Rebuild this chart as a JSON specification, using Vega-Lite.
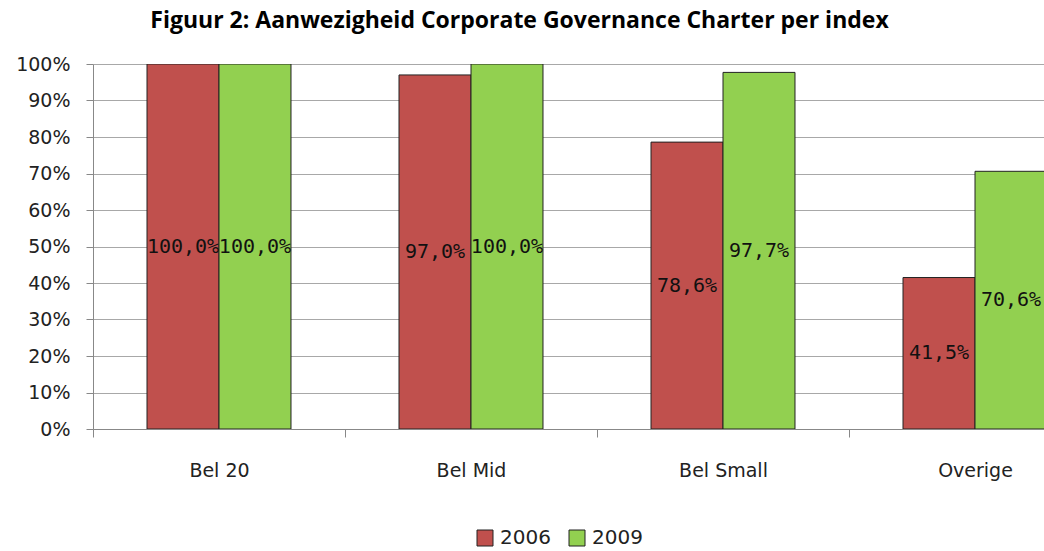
{
  "$schema": "https://vega.github.io/schema/vega-lite/v6.json",
  "width": 951,
  "height": 365,
  "autosize": {"type": "none"},
  "padding": {"left": 93, "top": 64, "right": 0, "bottom": 122},
  "background": "white",
  "config": {
    "view": {"stroke": null},
    "locale": {"number": {"decimal": ",", "thousands": ".", "grouping": [3], "currency": ["€", ""]}},
    "axis": {"labelFont": "DejaVu Sans", "labelColor": "#222222", "domainColor": "#888888", "tickColor": "#888888", "gridColor": "#a8a8a8"}
  },
  "title": {
    "text": "Figuur 2: Aanwezigheid Corporate Governance Charter per index",
    "font": "Open Sans",
    "fontSize": 23,
    "fontWeight": "bold",
    "color": "#000000",
    "anchor": "middle",
    "dx": -49,
    "offset": 22
  },
  "data": {
    "values": [
      {"index": "Bel 20", "jaar": "2006", "waarde": 1.0},
      {"index": "Bel 20", "jaar": "2009", "waarde": 1.0},
      {"index": "Bel Mid", "jaar": "2006", "waarde": 0.97},
      {"index": "Bel Mid", "jaar": "2009", "waarde": 1.0},
      {"index": "Bel Small", "jaar": "2006", "waarde": 0.786},
      {"index": "Bel Small", "jaar": "2009", "waarde": 0.977},
      {"index": "Overige", "jaar": "2006", "waarde": 0.415},
      {"index": "Overige", "jaar": "2009", "waarde": 0.706}
    ]
  },
  "encoding": {
    "x": {
      "field": "index",
      "type": "nominal",
      "sort": null,
      "title": null,
      "scale": {"range": [0, 1008], "paddingInner": 0.4286, "paddingOuter": 0.2143},
      "axis": {
        "labelAngle": 0,
        "labelFontSize": 19,
        "labelPadding": 24,
        "tickSize": 8,
        "tickOffset": -126,
        "labelOffset": 126,
        "grid": false
      }
    },
    "xOffset": {"field": "jaar", "type": "nominal", "scale": {"paddingInner": 0, "paddingOuter": 0}}
  },
  "layer": [
    {
      "mark": {"type": "bar", "stroke": "#222222", "strokeWidth": 1, "clip": true},
      "encoding": {
        "y": {
          "field": "waarde",
          "type": "quantitative",
          "title": null,
          "scale": {"domain": [0, 1]},
          "axis": {
            "values": [0, 0.1, 0.2, 0.3, 0.4, 0.5, 0.6, 0.7, 0.8, 0.9, 1.0],
            "format": ".0%",
            "labelFontSize": 19,
            "labelPadding": 16,
            "tickSize": 7,
            "grid": true
          }
        },
        "color": {
          "field": "jaar",
          "type": "nominal",
          "title": null,
          "scale": {"domain": ["2006", "2009"], "range": ["#C0504D", "#92D050"]},
          "legend": {
            "orient": "none",
            "direction": "horizontal",
            "legendX": 382,
            "legendY": 464,
            "symbolType": "square",
            "symbolSize": 256,
            "symbolStrokeColor": "#222222",
            "symbolStrokeWidth": 1,
            "symbolOpacity": 1,
            "labelFont": "DejaVu Sans",
            "labelFontSize": 20,
            "labelColor": "#222222",
            "labelOffset": 5,
            "columnPadding": 16
          }
        }
      }
    },
    {
      "mark": {"type": "text", "font": "DejaVu Sans Mono", "fontSize": 20, "color": "#111111", "align": "center", "baseline": "middle", "clip": true},
      "encoding": {
        "y": {"field": "waarde", "type": "quantitative", "scale": {"domain": [0, 2]}, "axis": null},
        "text": {"field": "waarde", "type": "quantitative", "format": ".1%"}
      }
    }
  ],
  "resolve": {"scale": {"y": "independent"}}
}
